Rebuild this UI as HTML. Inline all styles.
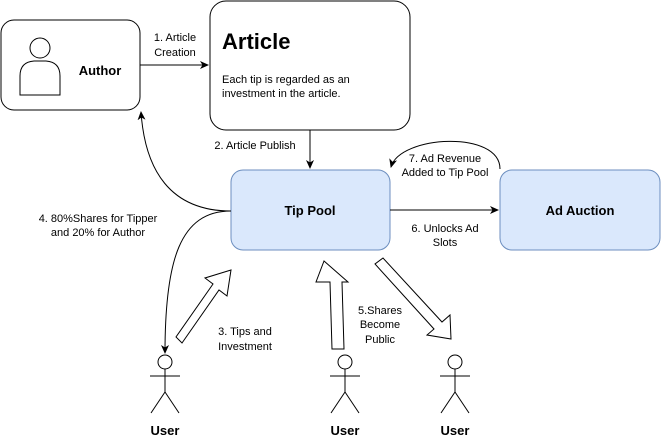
<!DOCTYPE html>
<html><head><meta charset="utf-8"><style>
html,body{margin:0;padding:0;background:#fff;}
svg{display:block;font-family:"Liberation Sans",Arial,sans-serif;}
</style></head><body>
<svg width="661" height="440" viewBox="0 0 661 440" xmlns="http://www.w3.org/2000/svg">
<defs>
<marker id="ah" markerWidth="10" markerHeight="10" refX="8" refY="5" orient="auto" markerUnits="userSpaceOnUse">
<path d="M0,1 L9,5 L0,9 L2.5,5 Z" fill="#000"/>
</marker>
</defs>
<!-- Author -->
<rect x="1" y="20" width="139" height="90" rx="13" fill="#fff" stroke="#000" stroke-width="1"/>
<circle cx="40" cy="48" r="10" fill="#fff" stroke="#000"/>
<path d="M20,95 L20,76 Q20,62 34,61 L46,61 Q60,62 60,76 L60,95 Z" fill="#fff" stroke="#000"/>
<text x="100" y="75" font-size="13" font-weight="bold" text-anchor="middle">Author</text>
<!-- Article -->
<rect x="210" y="1" width="200" height="129" rx="16" fill="#fff" stroke="#000"/>
<text x="222" y="49" font-size="22" font-weight="bold">Article</text>
<text x="222" y="83" font-size="11">Each tip is regarded as an</text>
<text x="222" y="97" font-size="11">investment in the article.</text>
<!-- Tip Pool -->
<rect x="231" y="170" width="159" height="80" rx="12" fill="#dae8fc" stroke="#6c8ebf"/>
<text x="310" y="215" font-size="13" font-weight="bold" text-anchor="middle">Tip Pool</text>
<!-- Ad Auction -->
<rect x="500" y="170" width="160" height="80" rx="12" fill="#dae8fc" stroke="#6c8ebf"/>
<text x="580" y="215" font-size="13" font-weight="bold" text-anchor="middle">Ad Auction</text>
<!-- Connectors -->
<line x1="140" y1="65" x2="208" y2="65" stroke="#000" marker-end="url(#ah)"/>
<text x="175" y="41" font-size="11" text-anchor="middle">1. Article</text>
<text x="175" y="56" font-size="11" text-anchor="middle">Creation</text>
<line x1="310" y1="130" x2="310" y2="168" stroke="#000" marker-end="url(#ah)"/>
<text x="255" y="149" font-size="11" text-anchor="middle">2. Article Publish</text>
<line x1="390" y1="210" x2="498" y2="210" stroke="#000" marker-end="url(#ah)"/>
<text x="445" y="232" font-size="11" text-anchor="middle">6. Unlocks Ad</text>
<text x="445" y="246" font-size="11" text-anchor="middle">Slots</text>
<path d="M500,169 C500,130 400,135 391,167" fill="none" stroke="#000" marker-end="url(#ah)"/>
<text x="445" y="162" font-size="11" text-anchor="middle">7. Ad Revenue</text>
<text x="445" y="176" font-size="11" text-anchor="middle">Added to Tip Pool</text>
<path d="M231,211 C170,211 145,170 141,112" fill="none" stroke="#000" marker-end="url(#ah)"/>
<path d="M231,211 C180,211 165,260 165,353" fill="none" stroke="#000" marker-end="url(#ah)"/>
<text x="98" y="222" font-size="11" text-anchor="middle">4. 80%Shares for Tipper</text>
<text x="98" y="236" font-size="11" text-anchor="middle">and 20% for Author</text>
<!-- Block arrows -->
<polygon points="231,270 205,278 213,284 176,337 182,343 219,290 227,296" fill="#fff" stroke="#000"/>
<text x="245" y="335" font-size="11" text-anchor="middle">3. Tips and</text>
<text x="245" y="350" font-size="11" text-anchor="middle">Investment</text>
<polygon points="324,261 316,282 330,282 332,349 344,349 342,282 348,282" fill="#fff" stroke="#000"/>
<text x="380" y="314" font-size="11" text-anchor="middle">5.Shares</text>
<text x="380" y="328" font-size="11" text-anchor="middle">Become</text>
<text x="380" y="343" font-size="11" text-anchor="middle">Public</text>
<polygon points="451,339 450,315 442,322 383,258 375,264 434,329 427,335" fill="#fff" stroke="#000"/>
<!-- Users -->
<g fill="none" stroke="#000">
<circle cx="165" cy="362" r="7" fill="#fff"/>
<line x1="165" y1="369" x2="165" y2="392"/><line x1="150" y1="376" x2="180" y2="376"/>
<line x1="165" y1="392" x2="151" y2="413"/><line x1="165" y1="392" x2="179" y2="413"/>
<circle cx="345" cy="362" r="7" fill="#fff"/>
<line x1="345" y1="369" x2="345" y2="392"/><line x1="330" y1="376" x2="360" y2="376"/>
<line x1="345" y1="392" x2="331" y2="413"/><line x1="345" y1="392" x2="359" y2="413"/>
<circle cx="455" cy="362" r="7" fill="#fff"/>
<line x1="455" y1="369" x2="455" y2="392"/><line x1="440" y1="376" x2="470" y2="376"/>
<line x1="455" y1="392" x2="441" y2="413"/><line x1="455" y1="392" x2="469" y2="413"/>
</g>
<text x="165" y="435" font-size="13" font-weight="bold" text-anchor="middle">User</text>
<text x="345" y="435" font-size="13" font-weight="bold" text-anchor="middle">User</text>
<text x="455" y="435" font-size="13" font-weight="bold" text-anchor="middle">User</text>
</svg>
</body></html>
